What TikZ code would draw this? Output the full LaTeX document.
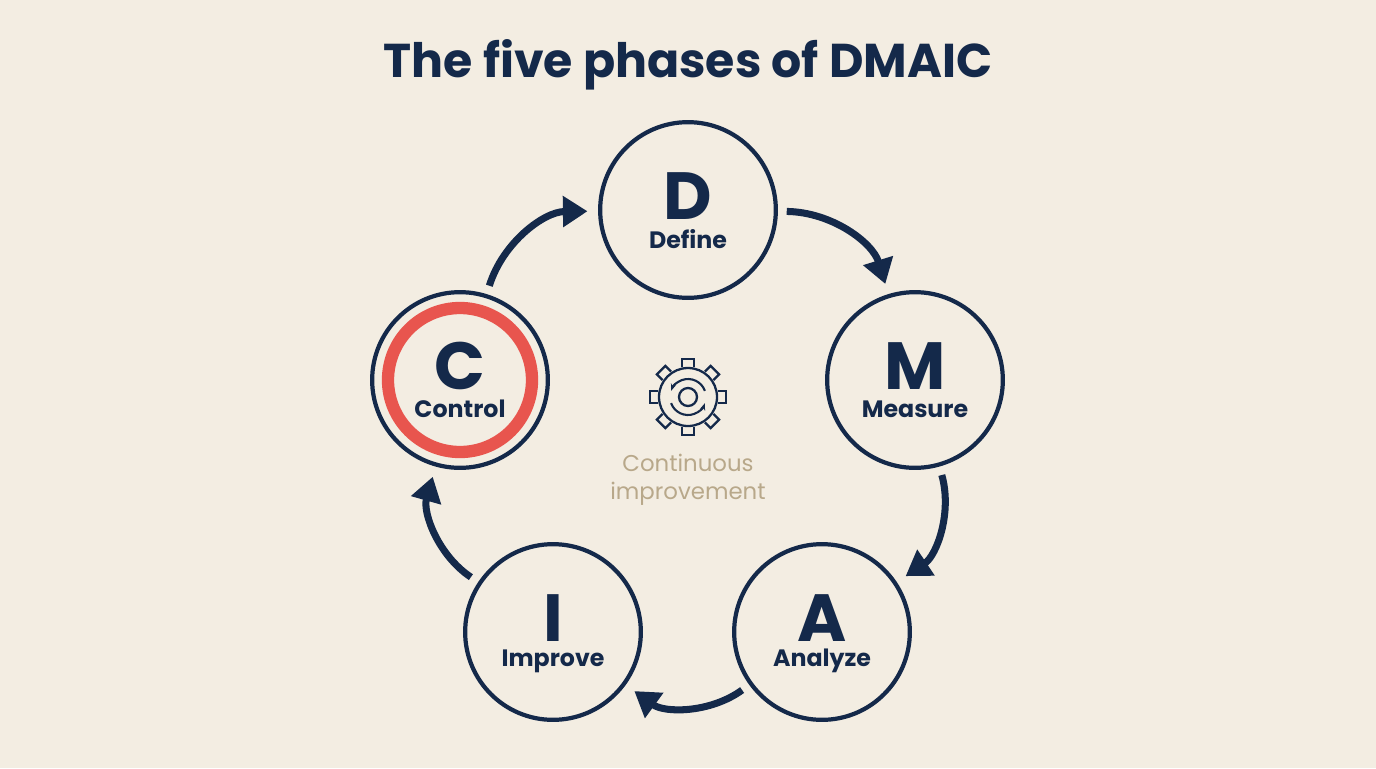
\documentclass[tikz,border=0pt]{standalone}
\usepackage{fontspec}
\setmainfont{Poppins}
\usetikzlibrary{arrows.meta,positioning,calc}
\definecolor{navy}{HTML}{14294A}
\definecolor{paper}{HTML}{F3EDE2}
\definecolor{alert}{HTML}{E8554E}
\definecolor{tan}{HTML}{B8A88A}
\tikzset{
  phase/.style={circle,draw=navy,line width=2.4pt,fill=paper,minimum size=100pt,inner sep=0pt},
  letter/.style={text=navy,inner sep=0pt,font=\fontsize{38}{38}\selectfont\bfseries},
  word/.style={text=navy,inner sep=0pt,font=\fontsize{13.5}{14}\selectfont\bfseries},
  flow/.style={draw=navy,line width=4pt,-{Triangle[length=14pt,width=17pt]},shorten <=5pt,shorten >=6pt}
}
\begin{document}
\begin{tikzpicture}[x=0.02cm,y=-0.02cm]
\useasboundingbox[fill=paper] (0,0) rectangle (1376,768);
\node[text=navy,font=\fontsize{27}{27}\selectfont\bfseries] (title) at (688,65) {The five phases of DMAIC};

% phases
\node[phase] (D) at (688,210) {};
\node[phase] (M) at (915,380) {};
\node[phase] (A) at (822,632) {};
\node[phase] (I) at (553,632) {};
\node[phase] (C) at (460,380) {};
\draw[alert,line width=7pt] (C.center) circle (72);
\foreach \p/\w in {D/Define,M/Measure,A/Analyze,I/Improve,C/Control}{
  \node[letter] (\p-l) at ($(\p)+(0,-14)$) {\p};
  \node[word] (\p-w) at ($(\p)+(0,29)$) {\w};
}

% cycle
\draw[flow] (D) to[bend left=36] (M);
\draw[flow] (M) to[bend left=36] (A);
\draw[flow] (A) to[bend left=36] (I);
\draw[flow] (I) to[bend left=36] (C);
\draw[flow] (C) to[bend left=36] (D);

% gear
\coordinate (G) at (688,397);
\foreach \a in {0,45,...,315}
  \draw[navy,line width=1.3pt,rotate around={\a:(G)}] ($(G)+(-6,-30)$) -- ++(0,-8) -- ++(12,0) -- ++(0,8);
\draw[navy,line width=1.3pt] (G) circle (29);
\draw[navy,line width=1.3pt] (G) circle (9);
\draw[navy,line width=1.2pt,-{Stealth[length=4pt]}] ($(G)+(160:18)$) arc (160:20:18);
\draw[navy,line width=1.2pt,-{Stealth[length=4pt]}] ($(G)+(-20:18)$) arc (-20:-160:18);
\node[text=tan,align=center,font=\fontsize{13}{16}\selectfont] (cap) at (688,480) {Continuous\\improvement};
\end{tikzpicture}
\end{document}
